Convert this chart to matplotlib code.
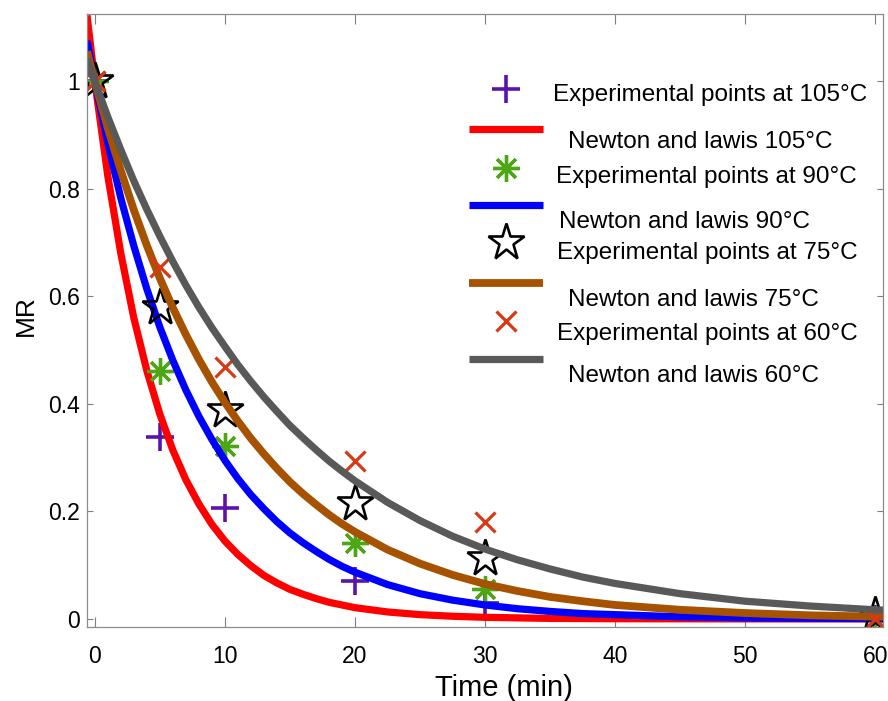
import matplotlib
matplotlib.use("Agg")
import matplotlib.pyplot as plt

plt.rcParams["font.family"] = ["Liberation Sans", "DejaVu Sans"]

# Experimental drying points (moisture ratio vs time)
t_exp = [0, 5, 10, 20, 30, 60]
mr_exp_105 = [1.0, 0.339, 0.206, 0.071, 0.030, 0.0]
mr_exp_90 = [1.0, 0.462, 0.321, 0.141, 0.055, 0.0]
mr_exp_75 = [1.0, 0.580, 0.389, 0.216, 0.113, 0.008]
mr_exp_60 = [1.0, 0.655, 0.469, 0.293, 0.181, 0.0]

# Newton (Lewis) model curves
t_fit = [-0.6, 0, 1, 2, 3, 4, 5, 6, 7, 8, 9, 10, 11, 12, 13, 14, 15, 16, 17,
         18, 19, 20, 22.5, 25, 27.5, 30, 32.5, 35, 37.5, 40, 45, 50, 55, 60,
         60.6]
mr_fit_105 = [1.123, 1.0, 0.824, 0.680, 0.560, 0.462, 0.381, 0.314, 0.259,
              0.214, 0.176, 0.145, 0.120, 0.099, 0.081, 0.067, 0.055, 0.046,
              0.038, 0.031, 0.026, 0.021, 0.013, 0.008, 0.005, 0.003, 0.002,
              0.001, 0.0007, 0.0004, 0.0002, 0.0001, 0.0, 0.0, 0.0]
mr_fit_90 = [1.076, 1.0, 0.885, 0.783, 0.694, 0.614, 0.543, 0.481, 0.426,
             0.377, 0.334, 0.295, 0.261, 0.231, 0.205, 0.181, 0.160, 0.142,
             0.126, 0.111, 0.098, 0.087, 0.064, 0.047, 0.035, 0.026, 0.019,
             0.014, 0.010, 0.008, 0.004, 0.002, 0.0012, 0.0007, 0.0006]
mr_fit_75 = [1.056, 1.0, 0.913, 0.834, 0.761, 0.695, 0.634, 0.579, 0.529,
             0.483, 0.441, 0.403, 0.368, 0.336, 0.307, 0.280, 0.255, 0.233,
             0.213, 0.194, 0.177, 0.162, 0.129, 0.103, 0.082, 0.065, 0.052,
             0.041, 0.033, 0.026, 0.017, 0.011, 0.0067, 0.0043, 0.004]
mr_fit_60 = [1.042, 1.0, 0.934, 0.873, 0.815, 0.762, 0.712, 0.665, 0.621,
             0.580, 0.542, 0.507, 0.473, 0.442, 0.413, 0.386, 0.360, 0.337,
             0.315, 0.294, 0.275, 0.257, 0.217, 0.183, 0.154, 0.130, 0.110,
             0.093, 0.078, 0.066, 0.047, 0.033, 0.024, 0.017, 0.0165]

x_ticks = [0, 10, 20, 30, 40, 50, 60]
y_ticks = [0, 0.2, 0.4, 0.6, 0.8, 1.0]
y_tick_labels = ["0", "0.2", "0.4", "0.6", "0.8", "1"]

labels = [
    "Experimental points at 105\u00b0C", "Newton and lawis 105\u00b0C",
    "Experimental points at 90\u00b0C", "Newton and lawis 90\u00b0C",
    "Experimental points at 75\u00b0C", "Newton and lawis 75\u00b0C",
    "Experimental points at 60\u00b0C", "Newton and lawis 60\u00b0C",
]

c_plus = "#5A14AA"
c_star8 = "#4DA614"
c_star = "black"
c_x = "#D93814"
c_red = "#FF0000"
c_blue = "#0000FF"
c_brown = "#A65200"
c_gray = "#595959"

W, H = 888, 701
fig = plt.figure(figsize=(W / 100, H / 100), dpi=100)
ax = fig.add_axes([87 / W, 1 - 627 / H, (883 - 87) / W, (627 - 13.5) / H])

asterisk = (8, 2, 0)
styles = [
    dict(marker="+", ls="none", color=c_plus, ms=20, mew=2.6),
    dict(ls="-", color=c_red, lw=5.2),
    dict(marker=asterisk, ls="none", color=c_star8, ms=19, mew=2.4),
    dict(ls="-", color=c_blue, lw=5.2),
    dict(marker="*", ls="none", mfc="none", mec=c_star, ms=28, mew=1.9),
    dict(ls="-", color=c_brown, lw=5.6),
    dict(marker="x", ls="none", color=c_x, ms=14, mew=2.3),
    dict(ls="-", color=c_gray, lw=5.2),
]
series = [
    (t_exp, mr_exp_105), (t_fit, mr_fit_105),
    (t_exp, mr_exp_90), (t_fit, mr_fit_90),
    (t_exp, mr_exp_75), (t_fit, mr_fit_75),
    (t_exp, mr_exp_60), (t_fit, mr_fit_60),
]
for (xs, ys), st in zip(series, styles):
    ax.plot(xs, ys, solid_capstyle="butt", solid_joinstyle="round", **st)

ax.set_xlim(-0.6, 60.6)
ax.set_ylim(-0.015, 1.1265)
ax.set_xticks(x_ticks)
ax.set_yticks(y_ticks)
ax.set_yticklabels(y_tick_labels)
ax.tick_params(axis="x", direction="in", length=7, width=0.8, color="#7f7f7f",
               labelsize=16.5, pad=13, top=True)
ax.tick_params(axis="y", direction="in", length=4.5, width=0.8, color="#7f7f7f",
               labelsize=16.5, pad=5, right=True)
for sp in ax.spines.values():
    sp.set_color("#8c8c8c")
    sp.set_linewidth(0.9)
ax.set_xlabel("Time (min)", fontsize=21)
ax.xaxis.set_label_coords(0.524, -0.077)
ax.set_ylabel("MR", fontsize=19)
ax.yaxis.set_label_coords(-0.062, 0.507)

# Legend drawn on a pixel-unit overlay
lg = fig.add_axes([0, 0, 1, 1], facecolor="none")
lg.set_xlim(0, W)
lg.set_ylim(H, 0)
lg.axis("off")
marker_rows = [89, 168, 242, 321]
line_rows = [129, 205, 283, 359]
text_rows = [95, 142, 177, 222, 253, 300, 334, 376]
text_left = [553, 568, 556, 559, 557, 568, 557, 568]
for i in range(4):
    ms = styles[2 * i]
    ls = styles[2 * i + 1]
    lg.plot([506], [marker_rows[i]], **ms)
    lg.plot([469, 543], [line_rows[i]] * 2, solid_capstyle="butt", **ls)
for lab, y, x in zip(labels, text_rows, text_left):
    lg.text(x, y, lab, fontsize=17.5, va="center", ha="left")

fig.savefig("out.png", dpi=100)
